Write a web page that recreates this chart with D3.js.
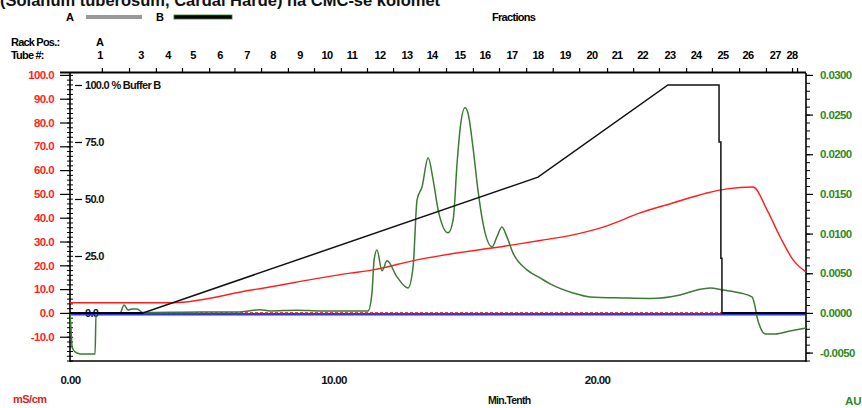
<!DOCTYPE html>
<html><head><meta charset="utf-8">
<script src="https://cdn.jsdelivr.net/npm/d3@7"></script>
<style>
html,body{margin:0;padding:0;background:#fff;}
svg{display:block;font-family:"Liberation Sans",Arial,sans-serif;}
</style></head>
<body><svg id="c" width="862" height="408"></svg>
<script>
// ---- data ----
const titleText = "(Solanum tuberosum, Cardal Harde) na CMC-se kolomet";
const condTicks = [100,90,80,70,60,50,40,30,20,10,0,-10];
const uvTicks = [0.03,0.025,0.02,0.015,0.01,0.005,0,-0.005];
const bTicks = [0,25,50,75,100];
const timeTicks = [0,10,20];
const tubeLabels = ["1","3","4","5","6","7","8","9","10","11","12","13","14","15","16","17","18","19","20","21","22","23","24","25","26","27","28"];
const tubeTimes = [1.14,2.69,3.72,4.67,5.69,6.72,7.70,8.73,9.75,10.70,11.76,12.79,13.74,14.80,15.75,16.77,17.76,18.79,19.81,20.76,21.73,22.77,23.76,24.78,25.73,26.76,27.40];
const fractionMarks = [1.21,2.24,3.26,4.25,5.28,6.24,7.25,8.27,9.26,10.28,11.27,12.26,13.24,14.27,15.29,16.28,17.31,18.32,19.32,20.38,21.37,22.35,23.38,24.36,25.39,26.41,27.40,27.59];

// %B gradient (black)
const bTime = [0,2.77,17.76,22.69,24.63,24.63,24.70,24.70,24.74,24.74,27.93];
const bValue = [0,0,59.6,100,100,75,75,24,24,0,0];
// conductivity mS/cm (red)
const condTime = [0,3.91,6.83,10.63,11.50,13.17,16.58,17.84,19.09,20.38,21.63,22.88,24.17,24.93,25.92,26.45,26.95,27.44,27.93];
const condValue = [4.3,4.3,9.5,16.7,18.1,22.3,28.2,30.4,32.8,36.6,42.0,46.2,50.4,52.1,52.9,43.3,31.9,22.3,17.2];
// UV AU (green)
const uvTime = [0,0.04,0.08,0.19,0.38,0.95,0.99,1.90,2.05,2.20,2.35,2.54,2.77,4.93,6.45,7.21,7.59,8.61,9.49,10.63,11.31,11.46,11.54,11.65,11.84,12.03,12.41,12.83,13.02,13.17,13.36,13.59,13.78,13.97,14.35,14.54,14.69,14.80,14.99,15.10,15.29,15.48,15.67,16.02,16.20,16.39,16.58,16.81,17.34,17.84,18.22,19.09,19.73,20.99,22.01,23.15,23.80,24.29,24.78,25.43,25.88,26.00,26.07,26.19,26.38,26.76,27.32,27.93];
const uvValue = [0,-0.00214,-0.00429,-0.00492,-0.00517,-0.00517,0,0,0.00101,0.00038,0.0005,0.0005,0.00006,0.00013,0.00013,0.0004,0.00025,0.00035,0.00025,0.00025,0.00025,0.00252,0.00668,0.00794,0.0053,0.00656,0.00454,0.00315,0.0058,0.01425,0.01589,0.01955,0.01677,0.01299,0.01009,0.01173,0.01892,0.02308,0.02585,0.02522,0.02093,0.01551,0.01135,0.00832,0.00958,0.01084,0.00958,0.00757,0.00542,0.00441,0.00366,0.00252,0.00202,0.00189,0.00183,0.00227,0.0029,0.00315,0.0029,0.00252,0.00202,0.00076,-0.0005,-0.00177,-0.00265,-0.00265,-0.00227,-0.00189];
// baseline traces
const blueTime = [0,27.93], blueValue = [-0.6,-0.6];
const dashTime = [0,27.93], dashValue = [0.1,0.1];

// ---- layout ----
const L=70, R=806, T=73, B=361;
const svg = d3.select("#c");
const x = d3.scaleLinear().domain([0,27.93]).range([L,R]);
const yC = d3.scaleLinear().domain([-20.2,100.8]).range([B,T]);
const yU = d3.scaleLinear().domain([-0.00606,0.03024]).range([B,T]);
const yB = d3.scaleLinear().domain([0,100]).range([313,85]);

const font = "'Liberation Sans',Arial,sans-serif";

// title (cut off at top, as in the source image)
svg.append("text").attr("x",0).attr("y",6).attr("font-size",16.5).attr("font-weight","bold")
  .attr("fill","#111").text(titleText);

// legend
svg.append("text").attr("x",66).attr("y",21).attr("font-size",11).attr("font-weight","bold").text("A");
svg.append("line").attr("x1",86).attr("x2",142).attr("y1",17).attr("y2",17).attr("stroke","#999").attr("stroke-width",4);
svg.append("text").attr("x",156).attr("y",21).attr("font-size",11).attr("font-weight","bold").text("B");
svg.append("rect").attr("x",174).attr("y",15).attr("width",58).attr("height",4).attr("fill","#000").attr("stroke","#2e7d2e").attr("stroke-width",0.8);
svg.append("text").attr("x",492).attr("y",21).attr("font-size",11).attr("font-weight","bold").attr("letter-spacing","-0.7").text("Fractions");

// rack / tube header
svg.append("text").attr("x",11).attr("y",46).attr("font-size",11).attr("font-weight","bold").attr("letter-spacing","-0.8").text("Rack Pos.:");
svg.append("text").attr("x",11).attr("y",59).attr("font-size",11).attr("font-weight","bold").attr("letter-spacing","-0.8").text("Tube #:");
svg.append("text").attr("x",x(1.14)).attr("y",46).attr("font-size",11).attr("font-weight","bold").attr("text-anchor","middle").text("A");
svg.append("g").selectAll("text").data(tubeLabels).join("text")
  .attr("x",(d,i)=>x(tubeTimes[i])).attr("y",59).attr("font-size",11).attr("font-weight","bold").attr("text-anchor","middle")
  .attr("letter-spacing","-0.7").text(d=>d);

// fractions top axis
const topAxis = d3.axisTop(x).tickValues(fractionMarks).tickSize(5).tickFormat("");
const gt = svg.append("g").attr("transform",`translate(0,${T})`).call(topAxis);
gt.select(".domain").remove();
gt.selectAll("line").attr("stroke","#000").attr("stroke-width",1.2);
svg.append("line").attr("x1",60).attr("x2",R).attr("y1",T-0.5).attr("y2",T-0.5).attr("stroke","#000").attr("stroke-width",2);

// frame
svg.append("line").attr("x1",L).attr("x2",L).attr("y1",T).attr("y2",B+1).attr("stroke","#000").attr("stroke-width",1.6);
svg.append("line").attr("x1",R).attr("x2",R).attr("y1",T).attr("y2",B+1).attr("stroke","#000").attr("stroke-width",1.6);
svg.append("line").attr("x1",L).attr("x2",R).attr("y1",B).attr("y2",B).attr("stroke","#000").attr("stroke-width",1.6);

// left axis (mS/cm)
const gl = svg.append("g").attr("transform",`translate(${L},0)`);
gl.call(d3.axisLeft(yC).tickValues(d3.range(-20,101,2)).tickSize(3).tickFormat(""));
gl.select(".domain").remove();
gl.selectAll(".tick line").attr("stroke","#000").attr("x2",3).attr("x1",-3);
const glm = svg.append("g").attr("transform",`translate(${L},0)`)
  .call(d3.axisLeft(yC).tickValues(condTicks).tickSize(10).tickPadding(6).tickFormat(d3.format(".1f")));
glm.select(".domain").remove();
glm.selectAll(".tick line").attr("stroke","#000").attr("stroke-width",1.2);
glm.selectAll(".tick text").attr("fill","#ff2323").attr("font-size",11.5).attr("font-weight","bold")
  .attr("letter-spacing","-0.6").attr("font-family",font)
  .text(d=>d3.format(".1f")(d).replace("−","-"));

// %B axis
const gb = svg.append("g").attr("transform",`translate(${L+5},0)`)
  .call(d3.axisRight(yB).tickValues(bTicks).tickSize(7).tickPadding(3).tickFormat(d3.format(".1f")));
gb.select(".domain").remove();
gb.selectAll(".tick line").attr("stroke","#000").attr("stroke-width",1.2);
gb.selectAll(".tick text").attr("fill","#111").attr("font-size",11).attr("font-weight","bold").attr("letter-spacing","-0.7").attr("font-family",font)
  .text(d=> d===100 ? "100.0 % Buffer B" : d3.format(".1f")(d));

// right axis (AU)
const gr = svg.append("g").attr("transform",`translate(${R},0)`);
gr.call(d3.axisRight(yU).tickValues(d3.range(-6,31,1).map(v=>v/1000)).tickSize(4).tickFormat(""));
gr.select(".domain").remove();
gr.selectAll(".tick line").attr("stroke","#000");
const grm = svg.append("g").attr("transform",`translate(${R},0)`)
  .call(d3.axisRight(yU).tickValues(uvTicks).tickSize(7).tickPadding(7).tickFormat(d3.format(".4f")));
grm.select(".domain").remove();
grm.selectAll(".tick line").attr("stroke","#000").attr("stroke-width",1.2);
grm.selectAll(".tick text").attr("fill","#2e8a1e").attr("font-size",11.5).attr("font-weight","bold")
  .attr("letter-spacing","-0.6").attr("font-family",font)
  .text(d=>d3.format(".4f")(d).replace("−","-"));

// bottom axis
const gx = svg.append("g").attr("transform",`translate(0,${B})`)
  .call(d3.axisBottom(x).tickValues(timeTicks).tickSize(0).tickPadding(15).tickFormat(d3.format(".2f")));
gx.select(".domain").remove();
gx.selectAll(".tick text").attr("fill","#111").attr("font-size",11.5).attr("font-weight","bold")
  .attr("letter-spacing","-0.6").attr("font-family",font);

svg.append("text").attr("x",13).attr("y",403).attr("font-size",11).attr("font-weight","bold").attr("fill","#e01c1c").attr("letter-spacing","-0.5").text("mS/cm");
svg.append("text").attr("x",845).attr("y",405).attr("font-size",11.5).attr("font-weight","bold").attr("fill","#2e8a1e").text("AU");
svg.append("text").attr("x",488).attr("y",404).attr("font-size",10.5).attr("font-weight","bold").attr("letter-spacing","-0.7").attr("fill","#111").text("Min.Tenth");

// series
svg.append("clipPath").attr("id","pc").append("rect").attr("x",L).attr("y",T).attr("width",R-L).attr("height",B-T);
const plot = svg.append("g").attr("clip-path","url(#pc)");
const mk = (xs,ys,sc,curve)=> d3.line().x((d,i)=>x(xs[i])).y((d,i)=>sc(ys[i])).curve(curve||d3.curveLinear)(xs);

plot.append("path").attr("d",mk(blueTime,blueValue,yC)).attr("fill","none").attr("stroke","#1a1aff").attr("stroke-width",2.5).attr("stroke-opacity",0.9);
plot.append("path").attr("d",mk(dashTime,dashValue,yC)).attr("fill","none").attr("stroke","#ff3a1a").attr("stroke-width",1.2).attr("stroke-dasharray","3,2");
plot.append("path").attr("d",mk(condTime,condValue,yC,d3.curveMonotoneX)).attr("fill","none").attr("stroke","#ff1e1e").attr("stroke-width",1.4);
plot.append("path").attr("d",mk(uvTime,uvValue,yU,d3.curveMonotoneX)).attr("fill","none").attr("stroke","#3b7b33").attr("stroke-width",1.5);
plot.append("path").attr("d",mk(bTime,bValue,yB)).attr("fill","none").attr("stroke","#111").attr("stroke-width",1.5);
// thick black where %B is zero
[[0,2.77],[24.74,27.93]].forEach(s=>{
  plot.append("line").attr("x1",x(s[0])).attr("x2",x(s[1])).attr("y1",yB(0)).attr("y2",yB(0)).attr("stroke","#000").attr("stroke-width",2.2);
});
</script></body></html>
